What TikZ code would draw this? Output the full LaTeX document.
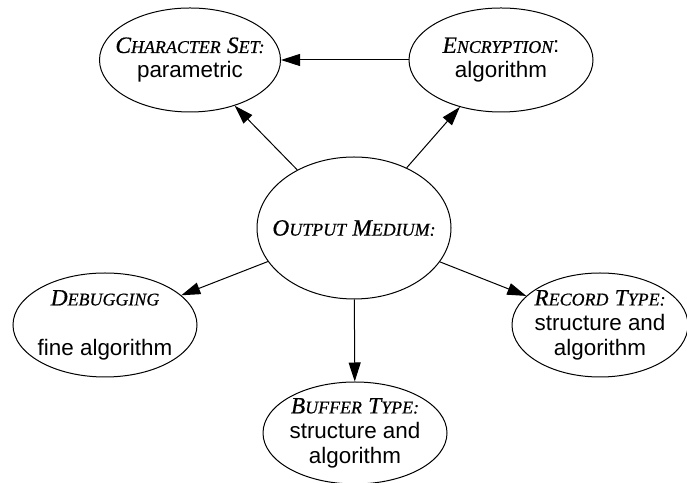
\documentclass[tikz,border=0pt]{standalone}
\usepackage{fontspec}
\setmainfont{Liberation Sans}
\newfontfamily\headfont{Liberation Serif}[FakeBold=0.6]
\usetikzlibrary{shapes,arrows.meta}

% italic small caps, faked with two sizes of capitals
\newcommand{\kwd}[2]{{\headfont\itshape\fontsize{23.5}{25}\selectfont #1\fontsize{18}{25}\selectfont #2}}

\begin{document}
\begin{tikzpicture}[x=1bp, y=1bp,
  topic/.style={ellipse, draw, line width=1bp, inner sep=0pt, minimum width=184bp, minimum height=104bp,
    label={[align=center, inner sep=0pt, font=\fontsize{22.5}{25}\selectfont]center:#1}},
  link/.style={-{Triangle[length=19bp,width=12bp]}, line width=1bp}]
\useasboundingbox (0,0) rectangle (687,483);
\node[topic={\kwd{C}{HARACTER} \kwd{S}{ET:}\\parametric}, minimum width=181bp] (charset) at (190,423) {};
\node[topic={\kwd{E}{NCRYPTION}:\\algorithm}] (crypt) at (501,423) {};
\node[topic={\kwd{O}{UTPUT} \kwd{M}{EDIUM:}}, minimum width=194bp, minimum height=142bp] (medium) at (354,255) {};
\node[topic={\kwd{D}{EBUGGING}\\[25pt]fine algorithm}] (debug) at (105,158) {};
\node[topic={\kwd{R}{ECORD} \kwd{T}{YPE:}\\structure and\\algorithm}, minimum width=176bp] (record) at (600,158) {};
\node[topic={\kwd{B}{UFFER} \kwd{T}{YPE:}\\structure and\\algorithm}, minimum height=102bp] (buffer) at (355,50) {};
\draw[link] (crypt) -- (charset);
\draw[link] (medium) -- (charset);
\draw[link] (medium) -- (crypt);
\draw[link] (medium) -- (debug);
\draw[link] (medium) -- (buffer);
\draw[link] (medium) -- (record);
\end{tikzpicture}
\end{document}
